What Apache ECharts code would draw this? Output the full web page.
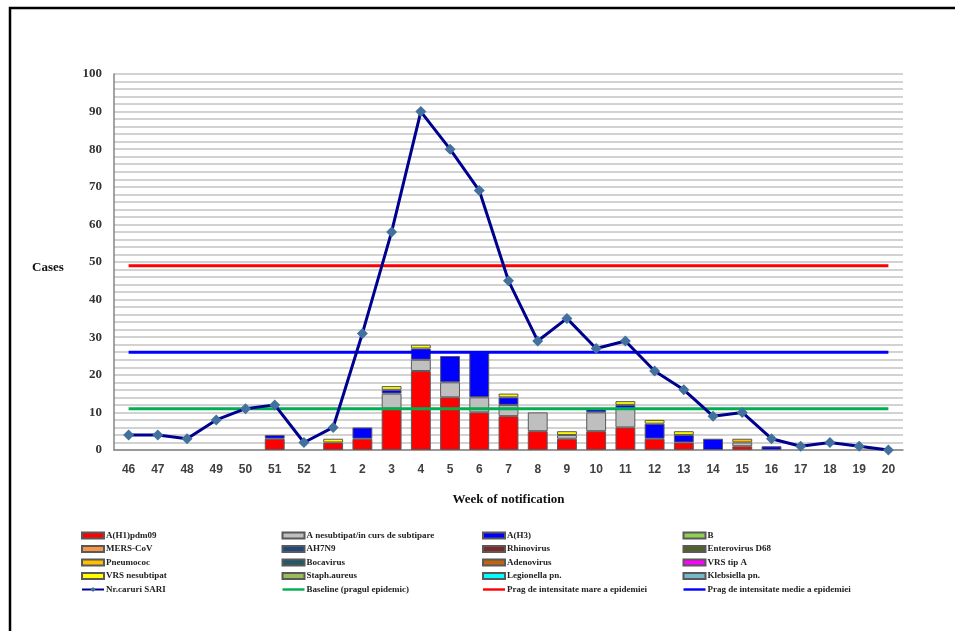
<!DOCTYPE html>
<html>
<head>
<meta charset="utf-8">
<script src="https://cdn.jsdelivr.net/npm/echarts@6/dist/echarts.min.js"></script>
<style>
html, body { margin: 0; padding: 0; background: #fff; }
#main { width: 955px; height: 631px; }
</style>
</head>
<body>
<div id="main"></div>
<script>
// week of notification
var weeks = ['46', '47', '48', '49', '50', '51', '52', '1', '2', '3', '4', '5', '6', '7',
    '8', '9', '10', '11', '12', '13', '14', '15', '16', '17', '18', '19', '20'];

// stacked bars (cases by etiology)
var h1pdm09 = [0, 0, 0, 0, 0, 3, 0, 2, 3, 11, 21, 14, 10, 9, 5, 3, 5, 6, 3, 2, 0, 1, 0, 0, 0, 0, 0];
var aNesubtipat = [0, 0, 0, 0, 0, 0, 0, 0, 0, 4, 3, 4, 4, 3, 5, 1, 5, 5, 0, 0, 0, 1, 0, 0, 0, 0, 0];
var h3 = [0, 0, 0, 0, 0, 1, 0, 0, 3, 1, 3, 7, 12, 2, 0, 0, 1, 1, 4, 2, 3, 0, 1, 0, 0, 0, 0];
var pneumococ = [0, 0, 0, 0, 0, 0, 0, 0, 0, 0, 0, 0, 0, 0, 0, 0, 0, 0, 0, 0, 0, 1, 0, 0, 0, 0, 0];
var vrsNesubtipat = [0, 0, 0, 0, 0, 0, 0, 1, 0, 1, 1, 0, 0, 1, 0, 1, 0, 1, 1, 1, 0, 0, 0, 0, 0, 0, 0];

// total SARI cases
var sari = [4, 4, 3, 8, 11, 12, 2, 6, 31, 58, 90, 80, 69, 45, 29, 35, 27, 29, 21, 16, 9, 10, 3, 1, 2, 1, 0];

// thresholds
var baseline = 11;
var pragMare = 49;
var pragMedie = 26;

var yTicks = [0, 100, 10];

var barDefs = [
    { name: 'A(H1)pdm09', color: '#FF0000', data: h1pdm09 },
    { name: 'A nesubtipat/in curs de subtipare', color: '#BFBFBF', data: aNesubtipat },
    { name: 'A(H3)', color: '#0000FF', data: h3 },
    { name: 'B', color: '#92D050', data: [] },
    { name: 'MERS-CoV', color: '#F79646', data: [] },
    { name: 'AH7N9', color: '#1F497D', data: [] },
    { name: 'Rhinovirus', color: '#7F2A2A', data: [] },
    { name: 'Enterovirus D68', color: '#4F6228', data: [] },
    { name: 'Pneumococ', color: '#FFC000', data: pneumococ },
    { name: 'Bocavirus', color: '#215967', data: [] },
    { name: 'Adenovirus', color: '#C0630F', data: [] },
    { name: 'VRS tip A', color: '#FF00FF', data: [] },
    { name: 'VRS nesubtipat', color: '#FFFF00', data: vrsNesubtipat },
    { name: 'Staph.aureus', color: '#9BBB59', data: [] },
    { name: 'Legionella pn.', color: '#00FFFF', data: [] },
    { name: 'Klebsiella pn.', color: '#76B7CA', data: [] }
];

var serif = '"Liberation Serif", "DejaVu Serif", serif';
var lineIcon = 'path://M0,2h22v2.4h-22z';

function flat(v) {
    return weeks.map(function () { return v; });
}

var series = barDefs.map(function (b) {
    return {
        name: b.name,
        type: 'bar',
        stack: 'cases',
        barWidth: '68%',
        data: b.data.map(function (v) { return v === 0 ? null : v; }),
        itemStyle: { color: b.color, borderColor: '#595959', borderWidth: 1 }
    };
});

series.push({
    name: 'Baseline (pragul epidemic)', type: 'line', data: flat(baseline),
    symbol: 'none', lineStyle: { color: '#00B050', width: 3 }, itemStyle: { color: '#00B050' }, z: 3
});
series.push({
    name: 'Prag de intensitate mare a epidemiei', type: 'line', data: flat(pragMare),
    symbol: 'none', lineStyle: { color: '#FF0000', width: 3 }, itemStyle: { color: '#FF0000' }, z: 3
});
series.push({
    name: 'Prag de intensitate medie a epidemiei', type: 'line', data: flat(pragMedie),
    symbol: 'none', lineStyle: { color: '#0000FF', width: 3 }, itemStyle: { color: '#0000FF' }, z: 3
});
series.push({
    name: 'Nr.caruri SARI', type: 'line', data: sari,
    symbol: 'diamond', symbolSize: 11,
    lineStyle: { color: '#00008F', width: 3 },
    itemStyle: { color: '#41719C' }, z: 4
});

var legendCols = [
    ['A(H1)pdm09', 'MERS-CoV', 'Pneumococ', 'VRS nesubtipat', 'Nr.caruri SARI'],
    ['A nesubtipat/in curs de subtipare', 'AH7N9', 'Bocavirus', 'Staph.aureus', 'Baseline (pragul epidemic)'],
    ['A(H3)', 'Rhinovirus', 'Adenovirus', 'Legionella pn.', 'Prag de intensitate mare a epidemiei'],
    ['B', 'Enterovirus D68', 'VRS tip A', 'Klebsiella pn.', 'Prag de intensitate medie a epidemiei']
];

var legends = legendCols.map(function (col, i) {
    return {
        orient: 'vertical',
        left: 81 + i * 200.5,
        top: 530,
        padding: 0,
        itemWidth: 22,
        itemHeight: 6,
        itemGap: 2.5,
        selectedMode: false,
        data: col.map(function (n, k) {
            if (k < 4) return { name: n, icon: 'rect' };
            if (i === 0) return { name: n };
            return { name: n, icon: lineIcon };
        }),
        textStyle: { fontFamily: serif, fontWeight: 'bold', fontSize: 9, color: '#222', padding: [0, 0, 0, -3], lineHeight: 11 }
    };
});

var myChart = echarts.init(document.getElementById('main'));
var option = {
    animation: false,
    backgroundColor: '#fff',
    legend: legends,
    grid: { left: 114, right: 52, top: 74, bottom: 181 },
    xAxis: {
        type: 'category',
        data: weeks,
        axisTick: { show: false },
        axisLine: { lineStyle: { color: '#868686', width: 1.5 } },
        axisLabel: { margin: 14, fontFamily: 'Liberation Sans, Arial, sans-serif', fontWeight: 'bold', fontSize: 12, color: '#404040' },
        name: 'Week of notification',
        nameLocation: 'middle',
        nameGap: 43,
        nameTextStyle: { fontFamily: serif, fontWeight: 'bold', fontSize: 13, color: '#111' }
    },
    yAxis: {
        type: 'value',
        min: yTicks[0],
        max: yTicks[1],
        interval: yTicks[2],
        axisLine: { show: true, lineStyle: { color: '#868686', width: 1.5 } },
        axisTick: { show: false },
        axisLabel: { margin: 12, fontFamily: serif, fontWeight: 'bold', fontSize: 13, color: '#333' },
        splitLine: { lineStyle: { color: '#d2d2d2', width: 2 } },
        minorTick: { show: false, splitNumber: 5 },
        minorSplitLine: { show: true, lineStyle: { color: '#d2d2d2', width: 2 } }
    },
    graphic: [
        {
            type: 'rect', z: 100,
            shape: { x: 10, y: 8, width: 980, height: 660 },
            style: { fill: null, stroke: '#000', lineWidth: 2.5 }
        },
        {
            type: 'text', left: 32, top: 261,
            style: { text: 'Cases', font: 'bold 13px ' + serif, fill: '#111' }
        }
    ],
    series: series
};

myChart.setOption(option);
</script>
</body>
</html>
